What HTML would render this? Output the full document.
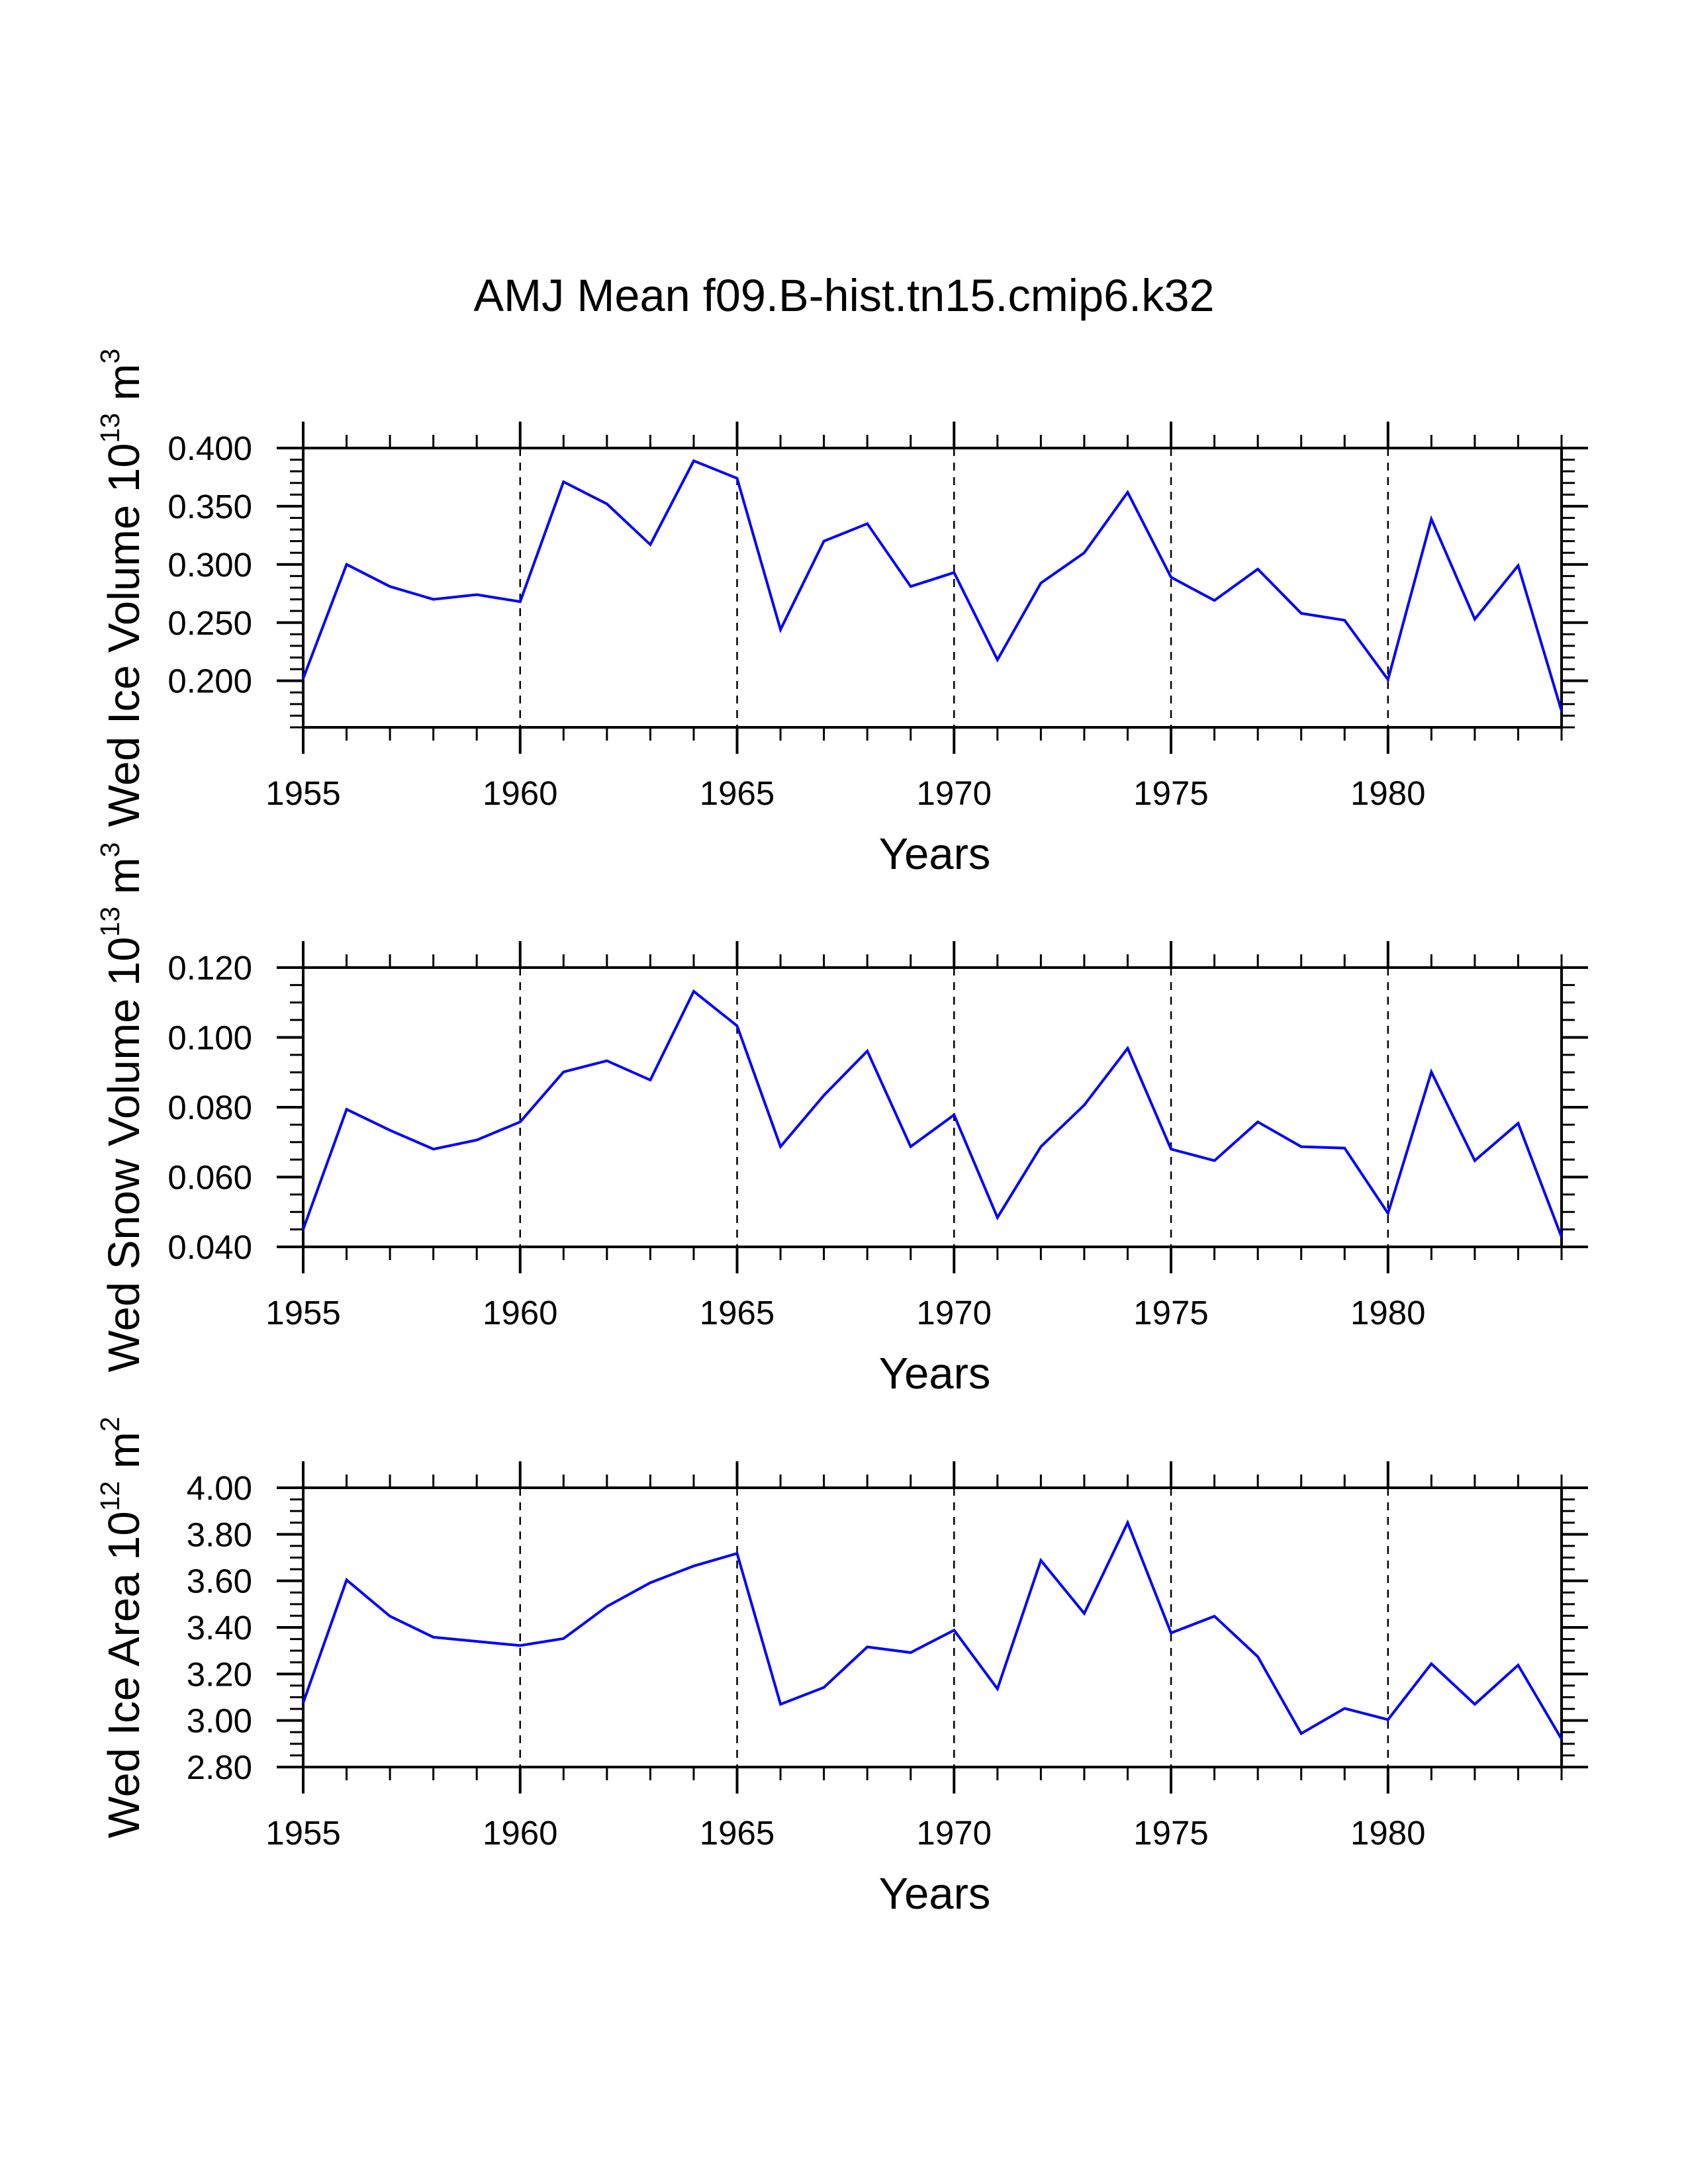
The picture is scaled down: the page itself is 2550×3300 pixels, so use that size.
<!DOCTYPE html>
<html><head><meta charset="utf-8"><style>
html,body{margin:0;padding:0;background:#fff;}
svg{display:block;}
text{font-family:"Liberation Sans",Arial,sans-serif;fill:#000;}
</style></head><body>
<svg id="chart" width="2550" height="3300" viewBox="0 0 2550 3300" xmlns="http://www.w3.org/2000/svg">
<rect width="2550" height="3300" fill="#fff"/>
<text x="1275" y="470" font-size="68.5" text-anchor="middle">AMJ Mean f09.B-hist.tn15.cmip6.k32</text>
</svg>
<script>
const years = [1955,1956,1957,1958,1959,1960,1961,1962,1963,1964,1965,1966,1967,1968,1969,1970,1971,1972,1973,1974,1975,1976,1977,1978,1979,1980,1981,1982,1983,1984];
const iceVolume = [0.202,0.300,0.281,0.270,0.274,0.268,0.371,0.352,0.317,0.389,0.374,0.244,0.320,0.335,0.281,0.293,0.218,0.284,0.310,0.362,0.289,0.269,0.296,0.258,0.252,0.201,0.339,0.253,0.299,0.174];
const snowVolume = [0.045,0.0794,0.0734,0.068,0.0706,0.0758,0.0901,0.0933,0.0878,0.1132,0.1033,0.0687,0.0834,0.0961,0.0687,0.0778,0.0484,0.0687,0.0806,0.0969,0.068,0.0647,0.0758,0.0687,0.0683,0.0496,0.0901,0.0647,0.0754,0.0428];
const iceArea = [3.076,3.604,3.448,3.358,3.34,3.322,3.352,3.49,3.592,3.664,3.718,3.07,3.142,3.316,3.292,3.388,3.136,3.688,3.46,3.85,3.376,3.448,3.274,2.944,3.052,3.004,3.244,3.07,3.238,2.92];
const xTickLabels = ["1955","1960","1965","1970","1975","1980"];
const volTicks = ["0.200","0.250","0.300","0.350","0.400"];
const snowTicks = ["0.040","0.060","0.080","0.100","0.120"];
const areaTicks = ["2.80","3.00","3.20","3.40","3.60","3.80","4.00"];

const NS="http://www.w3.org/2000/svg";
const svg=document.getElementById('chart');
const X0=458,X1=2359,H=422;
function xs(y){return X0+(y-1955)/(1984-1955)*(X1-X0);}
function mk(tag,attrs,parent){const e=document.createElementNS(NS,tag);for(const k in attrs)e.setAttribute(k,attrs[k]);(parent||svg).appendChild(e);return e;}

function panel(id,top,vals,ymin,ymax,ticks,minorStep,titleParts){
  const g=mk('g',{});
  
  
  const ys=v=>top+H-(v-ymin)/(ymax-ymin)*H;
  const bot=top+H;
  for(let yr=1960;yr<=1980;yr+=5){
    const l=mk('line',{x1:xs(yr),x2:xs(yr),y1:top,y2:bot,stroke:'#000','stroke-width':2.5,'stroke-dasharray':'12,10'},g);
    
    
  }
  for(let yr=1955;yr<=1984;yr++){
    const major=(yr%5===0);const len=major?40:20;const w=major?4:3;
    mk('line',{x1:xs(yr),x2:xs(yr),y1:top,y2:top-len,stroke:'#000','stroke-width':w},g);
    mk('line',{x1:xs(yr),x2:xs(yr),y1:bot,y2:bot+len,stroke:'#000','stroke-width':w},g);
  }
  xTickLabels.forEach(s=>{
    const t=mk('text',{x:xs(+s),y:bot+117,'font-size':51,'text-anchor':'middle'},g);
    t.textContent=s;
    
    
  });
  const nMin=Math.round((ymax-ymin)/minorStep);
  for(let i=0;i<=nMin;i++){
    const v=ymin+i*minorStep;const y=ys(v);
    mk('line',{x1:X0,x2:X0-20,y1:y,y2:y,stroke:'#000','stroke-width':3},g);
    mk('line',{x1:X1,x2:X1+20,y1:y,y2:y,stroke:'#000','stroke-width':3},g);
  }
  ticks.forEach(s=>{
    const y=ys(parseFloat(s));
    mk('line',{x1:X0,x2:X0-40,y1:y,y2:y,stroke:'#000','stroke-width':4},g);
    mk('line',{x1:X1,x2:X1+40,y1:y,y2:y,stroke:'#000','stroke-width':4},g);
    const t=mk('text',{x:381,y:y+18,'font-size':51,'text-anchor':'end'},g);
    t.textContent=s;
    
    
  });
  const fr=mk('rect',{x:X0,y:top,width:X1-X0,height:H,fill:'none',stroke:'#000','stroke-width':4},g);
  
  
  const pts=years.map((yr,i)=>xs(yr).toFixed(1)+','+ys(vals[i]).toFixed(1)).join(' ');
  const pl=mk('polyline',{points:pts,fill:'none',stroke:'#0000ff','stroke-width':4,'stroke-linejoin':'miter'},g);
  
  
  const xt=mk('text',{x:1412,y:bot+214,'font-size':67,'text-anchor':'middle'},g);
  xt.textContent='Years';
  
  
  const cy=top+H/2;
  const yt=mk('text',{x:0,y:0,'font-size':67,'text-anchor':'middle',transform:'translate(210,'+cy+') rotate(-90)'},g);
  
  
  titleParts.forEach(p=>{
    const ts=mk('tspan',p[1]?{'font-size':41,dy:-30}:{dy:p[2]||0},yt);
    ts.textContent=p[0];
  });
}
panel('ice-volume',677,iceVolume,0.16,0.40,volTicks,0.01,[['Wed Ice Volume 10',0],['13',1],[' m',0,30],['3',1]]);
panel('snow-volume',1462,snowVolume,0.04,0.12,snowTicks,0.005,[['Wed Snow Volume 10',0],['13',1],[' m',0,30],['3',1]]);
panel('ice-area',2248,iceArea,2.80,4.00,areaTicks,0.05,[['Wed Ice Area 10',0],['12',1],[' m',0,30],['2',1]]);
</script>
</body></html>
